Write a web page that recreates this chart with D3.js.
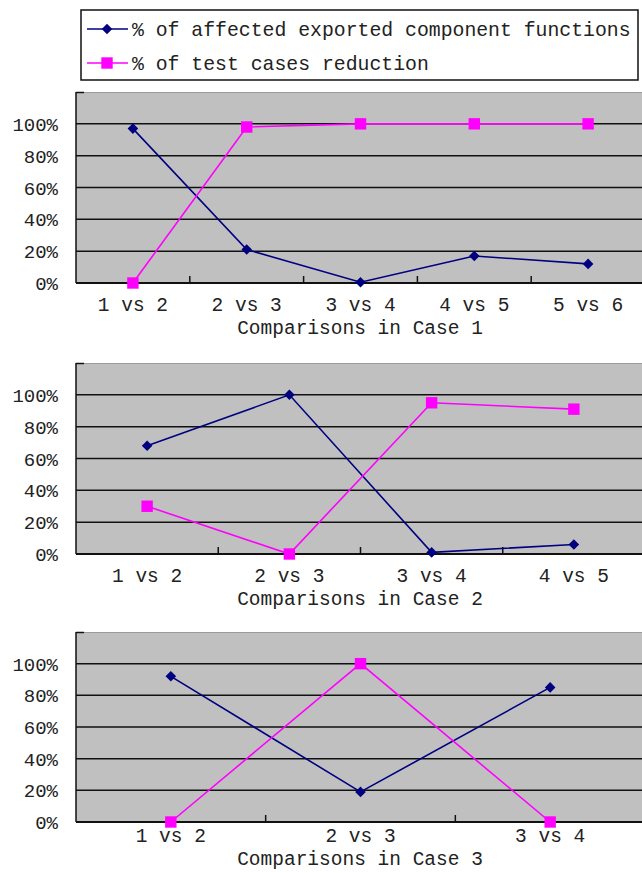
<!DOCTYPE html>
<html>
<head>
<meta charset="utf-8">
<script src="https://cdn.jsdelivr.net/npm/d3@7"></script>
<style>
  html, body { margin: 0; padding: 0; background: #fff; }
  svg { display: block; }
  text { font-family: "Liberation Mono", "DejaVu Sans Mono", monospace; fill: #222; }
</style>
</head>
<body>
<svg id="chart" width="642" height="873"></svg>
<script>
// ---- data ----
const seriesNames = ["% of affected exported component functions", "% of test cases reduction"];
const yTickValues = [0, 20, 40, 60, 80, 100];

const case1Categories = ["1 vs 2", "2 vs 3", "3 vs 4", "4 vs 5", "5 vs 6"];
const case1Affected   = [97, 21, 0.5, 17, 12];
const case1Reduction  = [0, 98, 100, 100, 100];

const case2Categories = ["1 vs 2", "2 vs 3", "3 vs 4", "4 vs 5"];
const case2Affected   = [68, 100, 1, 6];
const case2Reduction  = [30, 0, 95, 91];

const case3Categories = ["1 vs 2", "2 vs 3", "3 vs 4"];
const case3Affected   = [92, 19, 85];
const case3Reduction  = [0, 100, 0];

const xTitles = ["Comparisons in Case 1", "Comparisons in Case 2", "Comparisons in Case 3"];

// ---- styles ----
const blue = "#000080", pink = "#ff00ff";
const svg = d3.select("#chart");

const panels = [
  { cats: case1Categories, a: case1Affected, r: case1Reduction, title: xTitles[0], top: 92, bottom: 283, tickY: 311, titleY: 334 },
  { cats: case2Categories, a: case2Affected, r: case2Reduction, title: xTitles[1], top: 363, bottom: 554, tickY: 582, titleY: 605 },
  { cats: case3Categories, a: case3Affected, r: case3Reduction, title: xTitles[2], top: 632, bottom: 822, tickY: 842, titleY: 865 }
];

const left = 76, right = 645;
const diamond = d3.symbol().type(d3.symbolSquare).size(56);
const square = d3.symbol().type(d3.symbolSquare).size(130);

panels.forEach(p => {
  const g = svg.append("g");
  const x = d3.scaleBand().domain(p.cats).range([left, right]).padding(0);
  const y = d3.scaleLinear().domain([0, 120]).range([p.bottom, p.top]);

  // plot area
  g.append("rect").attr("x", left).attr("y", p.top).attr("width", 642 - left).attr("height", p.bottom - p.top)
    .attr("fill", "#c0c0c0");
  g.append("line").attr("x1", left).attr("x2", 642).attr("y1", p.top + 0.5).attr("y2", p.top + 0.5)
    .attr("stroke", "#9a9a9a").attr("stroke-width", 1);

  // gridlines
  g.selectAll(".grid").data(yTickValues.filter(v => v > 0)).enter().append("line")
    .attr("x1", left).attr("x2", 642)
    .attr("y1", d => y(d)).attr("y2", d => y(d))
    .attr("stroke", "#111").attr("stroke-width", 1.5);

  // y axis
  const yAxis = d3.axisLeft(y).tickValues(yTickValues).tickSize(0).tickPadding(0).tickFormat(d => d + "%");
  const ya = g.append("g").attr("transform", `translate(${left},0)`).call(yAxis);
  ya.select(".domain").remove();
  ya.selectAll("text").attr("x", -18).attr("dy", "0.35em").style("font-size", "19px")
    .style("font-family", '"Liberation Mono", monospace').attr("fill", "#333");
  g.append("line").attr("x1", left).attr("x2", left).attr("y1", p.top).attr("y2", p.bottom)
    .attr("stroke", "#111").attr("stroke-width", 1.5);
  g.append("line").attr("x1", left).attr("x2", left + 8).attr("y1", p.top + 0.5).attr("y2", p.top + 0.5)
    .attr("stroke", "#111").attr("stroke-width", 1.5);

  // x axis
  g.append("line").attr("x1", left).attr("x2", 642).attr("y1", p.bottom).attr("y2", p.bottom)
    .attr("stroke", "#111").attr("stroke-width", 2);
  const bounds = p.cats.slice(1).map(c => x(c));
  g.selectAll(".xt").data(bounds).enter().append("line")
    .attr("x1", d => d).attr("x2", d => d).attr("y1", p.bottom).attr("y2", p.bottom - 7)
    .attr("stroke", "#111").attr("stroke-width", 1.5);
  g.selectAll(".xl").data(p.cats).enter().append("text")
    .attr("x", d => x(d) + x.bandwidth() / 2).attr("y", p.tickY)
    .attr("text-anchor", "middle").style("font-size", "19.5px").attr("fill", "#333").text(d => d);
  g.append("text").attr("x", 360).attr("y", p.titleY).attr("text-anchor", "middle")
    .style("font-size", "19.5px").text(p.title);

  // lines
  const line = d3.line().x((d, i) => x(p.cats[i]) + x.bandwidth() / 2).y(d => y(d));
  g.append("path").datum(p.a).attr("d", line).attr("fill", "none").attr("stroke", blue).attr("stroke-width", 1.6);
  g.append("path").datum(p.r).attr("d", line).attr("fill", "none").attr("stroke", pink).attr("stroke-width", 1.6);
  g.selectAll(".ma").data(p.a).enter().append("path").attr("d", diamond)
    .attr("transform", (d, i) => `translate(${x(p.cats[i]) + x.bandwidth() / 2},${y(d)}) rotate(45)`).attr("fill", blue);
  g.selectAll(".mr").data(p.r).enter().append("path").attr("d", square)
    .attr("transform", (d, i) => `translate(${x(p.cats[i]) + x.bandwidth() / 2},${y(d)})`).attr("fill", pink);
});

// legend
const lg = svg.append("g");
lg.append("rect").attr("x", 81).attr("y", 10).attr("width", 557).attr("height", 70)
  .attr("fill", "#fff").attr("stroke", "#111").attr("stroke-width", 1.5);
const colors = [blue, pink];
seriesNames.forEach((name, i) => {
  const yy = 29 + i * 34;
  lg.append("line").attr("x1", 87).attr("x2", 128).attr("y1", yy).attr("y2", yy)
    .attr("stroke", colors[i]).attr("stroke-width", 1.6);
  lg.append("path").attr("d", i === 0 ? diamond : square)
    .attr("transform", `translate(107,${yy})` + (i === 0 ? " rotate(45)" : "")).attr("fill", colors[i]);
  lg.append("text").attr("x", 132).attr("y", yy).attr("dy", "0.35em").style("font-size", "19.8px")
    .attr("fill", "#333").text(name);
});
</script>
</body>
</html>
